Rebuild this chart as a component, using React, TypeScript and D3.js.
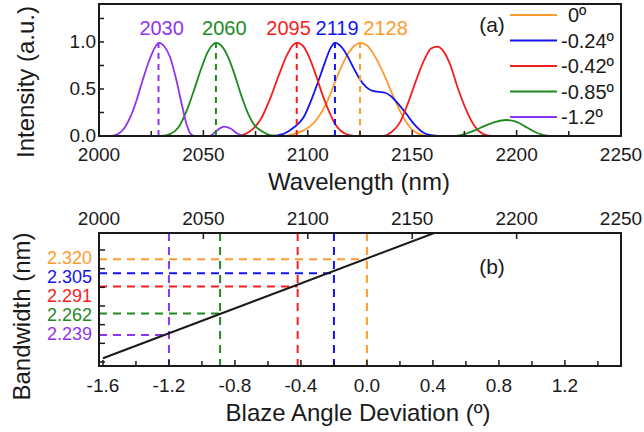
import React from "react";
import * as d3 from "d3";

// ---------- data ----------
const seriesNames = ["0º", "-0.24º", "-0.42º", "-0.85º", "-1.2º"];
const seriesColors = ["#FF9A2E", "#1414F0", "#F51E1E", "#1E8A1E", "#8F35F0"];

const spectrum0: [number, number][] = [
  [2000, 0], [2088, 0], [2093, 0.02], [2098, 0.06], [2102, 0.12], [2105, 0.2], [2109, 0.35], [2113, 0.57],
  [2117, 0.78], [2120, 0.9], [2123, 0.97], [2125, 0.99], [2128, 0.97], [2131, 0.89], [2134, 0.77], [2137, 0.63],
  [2141, 0.42], [2145, 0.23], [2148, 0.12], [2151, 0.05], [2155, 0.01], [2160, 0], [2250, 0],
];
const spectrum024: [number, number][] = [
  [2000, 0], [2083, 0], [2088, 0.02], [2092, 0.07], [2095, 0.12], [2098, 0.2], [2102, 0.4], [2105, 0.58],
  [2108, 0.77], [2111, 0.94], [2113, 0.99], [2116, 0.95], [2119, 0.85], [2122, 0.72], [2125, 0.6], [2128, 0.52],
  [2131, 0.48], [2134, 0.47], [2137, 0.46], [2140, 0.42], [2143, 0.35], [2146, 0.27], [2149, 0.18], [2152, 0.1],
  [2155, 0.04], [2159, 0.01], [2165, 0], [2250, 0],
];
const spectrum042: [number, number][] = [
  [2000, 0], [2066, 0], [2070, 0.02], [2074, 0.08], [2078, 0.2], [2082, 0.4], [2086, 0.64], [2090, 0.86],
  [2093, 0.97], [2095, 0.99], [2098, 0.95], [2101, 0.82], [2104, 0.64], [2107, 0.44], [2110, 0.27], [2113, 0.13],
  [2116, 0.05], [2120, 0.01], [2124, 0], [2136, 0], [2140, 0.04], [2144, 0.14], [2148, 0.35], [2152, 0.6],
  [2156, 0.82], [2159, 0.93], [2162, 0.95], [2165, 0.9], [2168, 0.77], [2172, 0.5], [2176, 0.27], [2180, 0.1],
  [2184, 0.02], [2188, 0], [2250, 0],
];
const spectrum085: [number, number][] = [
  [2000, 0], [2030, 0], [2034, 0.02], [2038, 0.09], [2042, 0.27], [2046, 0.52], [2049, 0.72], [2052, 0.89],
  [2054, 0.96], [2056, 0.99], [2059, 0.95], [2062, 0.83], [2065, 0.65], [2068, 0.44], [2071, 0.26], [2074, 0.13],
  [2078, 0.05], [2082, 0.01], [2088, 0], [2170, 0], [2175, 0.02], [2180, 0.06], [2185, 0.11], [2190, 0.15],
  [2195, 0.17], [2200, 0.15], [2205, 0.09], [2209, 0.04], [2213, 0.01], [2218, 0], [2250, 0],
];
const spectrum12: [number, number][] = [
  [2000, 0], [2006, 0], [2009, 0.02], [2012, 0.08], [2015, 0.2], [2018, 0.38], [2021, 0.6], [2024, 0.8],
  [2027, 0.95], [2029, 0.99], [2031, 0.96], [2034, 0.84], [2037, 0.6], [2040, 0.3], [2042, 0.12], [2044, 0.02],
  [2046, 0], [2053, 0], [2056, 0.05], [2060, 0.1], [2063, 0.08], [2066, 0.03], [2069, 0], [2250, 0],
];
const spectra = [spectrum0, spectrum024, spectrum042, spectrum085, spectrum12];

const peakWavelengths = [2125, 2113, 2094.7, 2056, 2028.5];
const peakLabels = ["2128", "2119", "2095", "2060", "2030"];
const peakLabelValues = [2128, 2119, 2095, 2060, 2030];

const markerAngles = [0, -0.2, -0.42, -0.89, -1.2];
const bandwidths = [2.32, 2.305, 2.291, 2.262, 2.239];
const bandwidthLabels = ["2.320", "2.305", "2.291", "2.262", "2.239"];
const fitAngles = [-1.6, 0.42];
const fitBandwidths = [2.214, 2.349];

const wlTicks = [2000, 2050, 2100, 2150, 2200, 2250];
const wlMinorTicks = [2025, 2075, 2125, 2175, 2225];
const intTicks = [0, 0.5, 1.0];
const intTickLabels = ["0.0", "0.5", "1.0"];
const intMinorTicks = [0.25, 0.75, 1.25];
const angTicks = [-1.6, -1.2, -0.8, -0.4, 0.0, 0.4, 0.8, 1.2];
const angMinorTicks = [-1.4, -1.0, -0.6, -0.2, 0.2, 0.6, 1.0, 1.4];
const bwTicks = [2.21, 2.23, 2.25, 2.27, 2.29, 2.31, 2.33];

// ---------- layout ----------
const W = 644, H = 432;
const L = 99, R = 621;
const aTop = 4, aBot = 136;
const bTop = 233, bBot = 366;
const FONT = "'Liberation Sans', Arial, Helvetica, sans-serif";
const INK = "#1a1a1a";

const xW = d3.scaleLinear().domain([2000, 2250]).range([L, R]);
const yI = d3.scaleLinear().domain([0, 1.404]).range([aBot, aTop]);
const xA = d3.scaleLinear().domain([-1.624, 1.54]).range([L, R]);
const yB = d3.scaleLinear().domain([2.2057, 2.3482]).range([bBot, bTop]);

const specLine = d3.line<[number, number]>()
  .x((d) => xW(d[0]))
  .y((d) => yI(d[1]))
  .curve(d3.curveMonotoneX);

const fitLine = d3.line<number>()
  .x((_, i) => xA(fitAngles[i]))
  .y((d) => yB(d));

// resolve overlapping peak labels by merging clusters
function spreadLabels(values: number[], sep: number): number[] {
  const order = values.map((v, i) => i).sort((a, b) => values[a] - values[b]);
  let clusters = order.map((i) => ({ idx: [i], center: xW(values[i]) }));
  let changed = true;
  while (changed) {
    changed = false;
    for (let k = 0; k < clusters.length - 1; k++) {
      const a = clusters[k], b = clusters[k + 1];
      const aRight = a.center + ((a.idx.length - 1) * sep) / 2;
      const bLeft = b.center - ((b.idx.length - 1) * sep) / 2;
      if (bLeft - aRight < sep) {
        const idx = [...a.idx, ...b.idx];
        const center = d3.mean(idx, (i) => xW(values[i])) as number;
        clusters.splice(k, 2, { idx, center });
        changed = true;
        break;
      }
    }
  }
  const out = new Array(values.length).fill(0);
  clusters.forEach((c) => {
    c.idx.forEach((i, j) => {
      out[i] = c.center + (j - (c.idx.length - 1) / 2) * sep;
    });
  });
  return out;
}

export default function App() {
  const labelX = spreadLabels(peakLabelValues, 48.5);
  const bwTopY = yB(d3.max(bandwidths) as number);
  const bwBotY = yB(d3.min(bandwidths) as number);
  const bwOrder = bandwidths.map((v, i) => i).sort((a, b) => bandwidths[b] - bandwidths[a]);
  const bwLabelY: number[] = new Array(bandwidths.length);
  bwOrder.forEach((i, k) => {
    bwLabelY[i] = bwTopY + (k * (bwBotY - bwTopY)) / (bandwidths.length - 1) - 1.5;
  });

  return (
    <svg
      width={W}
      height={H}
      style={{ position: "absolute", left: 0, top: 0, background: "#fff" }}
      fontFamily={FONT}
    >
      <defs>
        <clipPath id="clipA">
          <rect x={L} y={aTop} width={R - L} height={aBot - aTop} />
        </clipPath>
        <clipPath id="clipB">
          <rect x={L} y={bTop} width={R - L} height={bBot - bTop} />
        </clipPath>
      </defs>

      {/* ================= Panel (a) ================= */}
      <g clipPath="url(#clipA)">
        {spectra.map((s, i) => (
          <path key={i} d={specLine(s) || ""} fill="none" stroke={seriesColors[i]} strokeWidth={1.8} />
        ))}
        {peakWavelengths.map((p, i) => (
          <line
            key={i}
            x1={xW(p)}
            x2={xW(p)}
            y1={yI(1.0)}
            y2={yI(0)}
            stroke={seriesColors[i]}
            strokeWidth={2}
            strokeDasharray="6,5"
          />
        ))}
      </g>
      {/* ticks */}
      {wlTicks.slice(1, -1).map((t) => (
        <line key={t} x1={xW(t)} x2={xW(t)} y1={aBot} y2={aBot - 6} stroke={INK} strokeWidth={1.5} />
      ))}
      {wlMinorTicks.map((t) => (
        <line key={t} x1={xW(t)} x2={xW(t)} y1={aBot} y2={aBot - 5} stroke={INK} strokeWidth={1.5} />
      ))}
      {intTicks.map((t) => (
        <line key={t} x1={L} x2={L + 5} y1={yI(t)} y2={yI(t)} stroke={INK} strokeWidth={1.5} />
      ))}
      {intMinorTicks.map((t) => (
        <line key={t} x1={L} x2={L + 5} y1={yI(t)} y2={yI(t)} stroke={INK} strokeWidth={1.5} />
      ))}
      <rect x={L} y={aTop} width={R - L} height={aBot - aTop} fill="none" stroke={INK} strokeWidth={2} />
      {/* tick labels */}
      {wlTicks.map((t) => (
        <text key={t} x={xW(t)} y={161} textAnchor="middle" fontSize={19} fill={INK}>
          {t}
        </text>
      ))}
      {intTicks.map((t, i) => (
        <text key={t} x={96} y={yI(t) + 6} textAnchor="end" fontSize={19} fill={INK}>
          {intTickLabels[i]}
        </text>
      ))}
      {/* peak labels */}
      {peakLabels.map((lab, i) => (
        <text key={lab} x={labelX[i]} y={yI(1.0) - 7} textAnchor="middle" fontSize={20} fill={seriesColors[i]}>
          {lab}
        </text>
      ))}
      {/* legend */}
      {seriesNames.map((n, i) => {
        const cy = 15 + i * 25.5;
        return (
          <g key={n}>
            <line x1={510} x2={557} y1={cy} y2={cy} stroke={seriesColors[i]} strokeWidth={2} />
            <text x={i === 0 ? 568 : 561} y={cy + 7} fontSize={20} fill={INK}>
              {n}
            </text>
          </g>
        );
      })}
      <text x={492} y={32} textAnchor="middle" fontSize={21} fill={INK}>
        (a)
      </text>
      <text x={359} y={190} textAnchor="middle" fontSize={24} fill={INK}>
        Wavelength (nm)
      </text>
      <text transform={`translate(34, ${(aTop + aBot) / 2 + 12}) rotate(-90)`} textAnchor="middle" fontSize={24} fill={INK}>
        Intensity (a.u.)
      </text>

      {/* ================= Panel (b) ================= */}
      <g clipPath="url(#clipB)">
        {bandwidths.map((b, i) => (
          <line
            key={"h" + i}
            x1={L}
            x2={xA(markerAngles[i])}
            y1={yB(b)}
            y2={yB(b)}
            stroke={seriesColors[i]}
            strokeWidth={2}
            strokeDasharray="8,6"
          />
        ))}
        {markerAngles.map((a, i) => (
          <line
            key={"v" + i}
            x1={xA(a)}
            x2={xA(a)}
            y1={bTop}
            y2={bBot}
            stroke={seriesColors[i]}
            strokeWidth={2}
            strokeDasharray="8,6"
          />
        ))}
        <path d={fitLine(fitBandwidths) || ""} fill="none" stroke={INK} strokeWidth={2} />
      </g>
      {/* ticks */}
      {angTicks.map((t) => (
        <line key={t} x1={xA(t)} x2={xA(t)} y1={bBot} y2={bBot - 6} stroke={INK} strokeWidth={1.5} />
      ))}
      {angMinorTicks.map((t) => (
        <line key={t} x1={xA(t)} x2={xA(t)} y1={bBot} y2={bBot - 5} stroke={INK} strokeWidth={1.5} />
      ))}
      {wlTicks.slice(1, -1).map((t) => (
        <line key={t} x1={xW(t)} x2={xW(t)} y1={bTop} y2={bTop + 6} stroke={INK} strokeWidth={1.5} />
      ))}
      {bwTicks.map((t) => (
        <line key={t} x1={L} x2={L + 6} y1={yB(t)} y2={yB(t)} stroke={INK} strokeWidth={1.5} />
      ))}
      <rect x={L} y={bTop} width={R - L} height={bBot - bTop} fill="none" stroke={INK} strokeWidth={2} />
      {wlTicks.map((t) => (
        <text key={t} x={xW(t)} y={225} textAnchor="middle" fontSize={19} fill={INK}>
          {t}
        </text>
      ))}
      {angTicks.map((t) => (
        <text key={t} x={xA(t)} y={392} textAnchor="middle" fontSize={19} fill={INK}>
          {t.toFixed(1)}
        </text>
      ))}
      {bandwidthLabels.map((lab, i) => (
        <text key={lab} x={92} y={bwLabelY[i] + 6.5} textAnchor="end" fontSize={18} fill={seriesColors[i]}>
          {lab}
        </text>
      ))}
      <text x={492} y={274} textAnchor="middle" fontSize={21} fill={INK}>
        (b)
      </text>
      <text x={358} y={421} textAnchor="middle" fontSize={24} fill={INK}>
        Blaze Angle Deviation (º)
      </text>
      <text transform={`translate(30, ${(bTop + bBot) / 2 + 17}) rotate(-90)`} textAnchor="middle" fontSize={24} fill={INK}>
        Bandwidth (nm)
      </text>
    </svg>
  );
}
